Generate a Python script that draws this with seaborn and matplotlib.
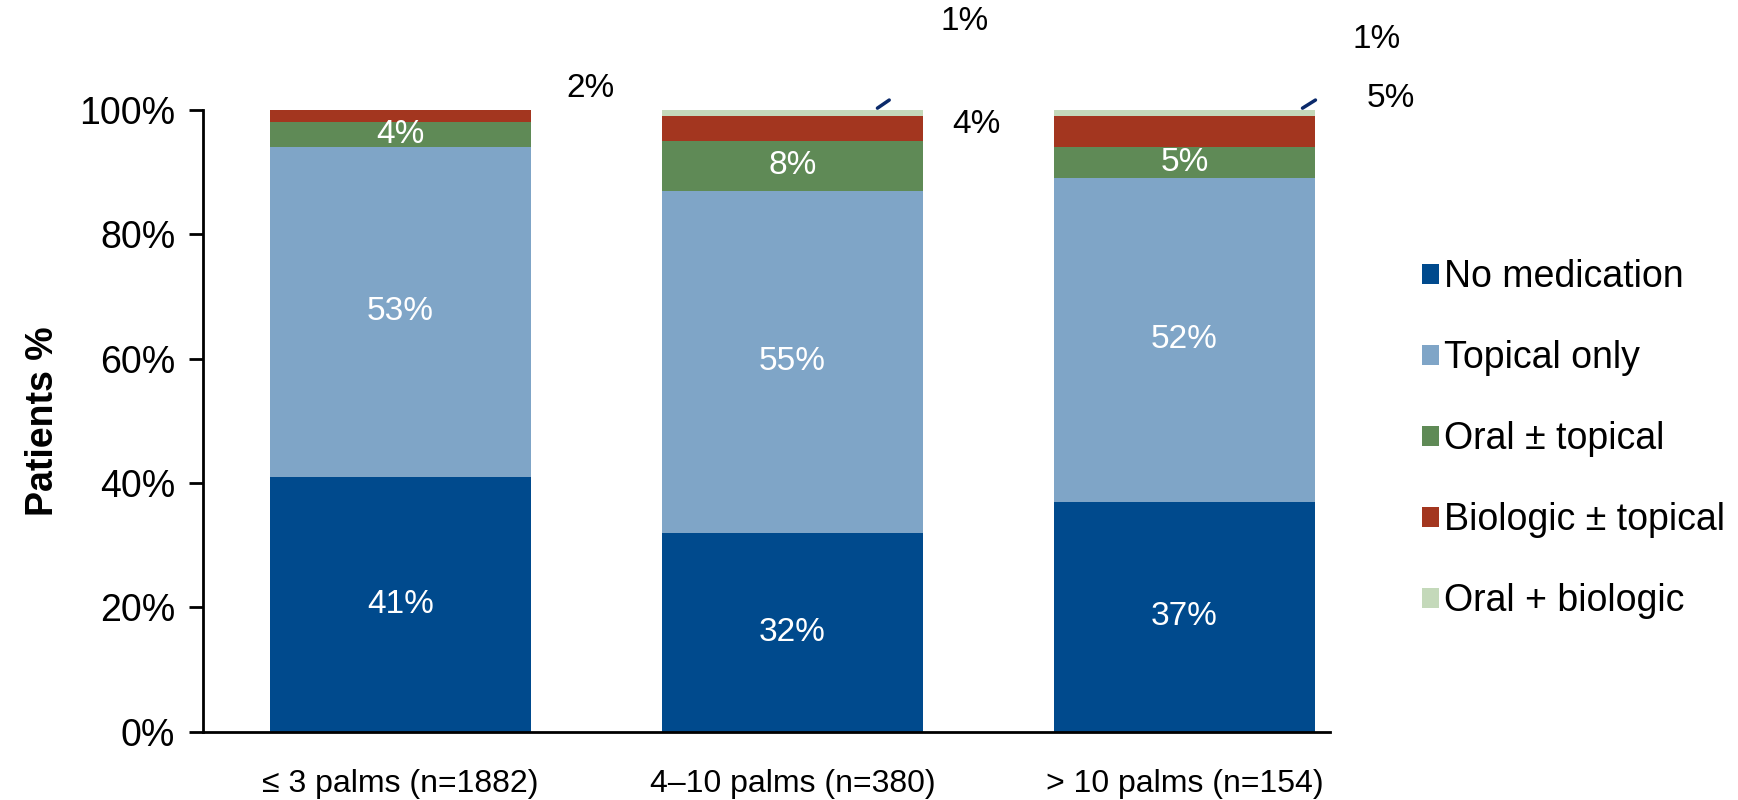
import numpy as np
import pandas as pd
import seaborn as sns
import matplotlib.pyplot as plt
from matplotlib.patches import Patch

groups = ["≤ 3 palms (n=1882)", "4–10 palms (n=380)", "> 10 palms (n=154)"]
series = ["No medication", "Topical only", "Oral ± topical", "Biologic ± topical", "Oral + biologic"]
no_med = [41, 32, 37]
topical = [53, 55, 52]
oral = [4, 8, 5]
biologic = [2, 4, 5]
oral_bio = [0, 1, 1]
colors = ["#004A8D", "#7FA5C7", "#5F8A56", "#A3361F", "#C4D9BA"]

sns.set_style("white")
plt.rcParams['font.family'] = ['Liberation Sans', 'DejaVu Sans']
plt.rcParams['text.color'] = 'black'
plt.rcParams['xtick.color'] = 'black'
plt.rcParams['ytick.color'] = 'black'
plt.rcParams['axes.labelcolor'] = 'black'

vals = np.array([no_med, topical, oral, biologic, oral_bio]) / 100.0
cum = np.cumsum(vals, axis=0)

fig = plt.figure(figsize=(17.38, 8), dpi=100)
ax = fig.add_axes([0.1168, 0.0856, 0.765 - 0.1168, 0.8625 - 0.0856])

# draw cumulative totals from the top segment down so each layer covers the one above
for i in range(len(series) - 1, -1, -1):
    d = pd.DataFrame({"group": groups, "value": cum[i]})
    sns.barplot(data=d, x="group", y="value", color=colors[i], width=0.666,
                saturation=1, errorbar=None, linewidth=0, ax=ax)

# labels inside segments
for i in range(3):
    for j in range(3):
        v = vals[j, i]
        ax.text(i, cum[j, i] - v / 2, f"{v*100:.0f}%", ha="center", va="center",
                color="white", fontsize=24)

# small segments labelled outside the bars
ax.text(0.485, 1.034, f"{biologic[0]}%", ha="center", va="center", fontsize=24, clip_on=False)
ax.text(1.439, 1.142, f"{oral_bio[1]}%", ha="center", va="center", fontsize=24, clip_on=False)
ax.text(1.469, 0.977, f"{biologic[1]}%", ha="center", va="center", fontsize=24, clip_on=False)
ax.text(2.49, 1.113, f"{oral_bio[2]}%", ha="center", va="center", fontsize=24, clip_on=False)
ax.text(2.526, 1.019, f"{biologic[2]}%", ha="center", va="center", fontsize=24, clip_on=False)
ax.plot([1.217, 1.247], [1.003, 1.016], color="#0B2A6B", lw=2.5, clip_on=False)
ax.plot([2.301, 2.334], [1.003, 1.016], color="#0B2A6B", lw=2.5, clip_on=False)

ax.set_xlim(-0.503, 2.37)
ax.set_ylim(0, 1)
ax.set_yticks(np.arange(0, 1.01, 0.2))
ax.set_yticklabels([f"{t}%" for t in range(0, 101, 20)], fontsize=27)
ax.tick_params(axis="x", labelsize=23, length=0, pad=27)
ax.tick_params(axis="y", direction="out", length=10, width=2, pad=10, left=True)
ax.set_xlabel("")
ax.set_ylabel("Patients %", fontsize=27, fontweight="bold", labelpad=13)
sns.despine(ax=ax)
for s in ["left", "bottom"]:
    ax.spines[s].set_color("black")
    ax.spines[s].set_linewidth(2)

handles = [Patch(facecolor=c, edgecolor="none") for c in colors]
fig.legend(handles, series, loc="center left", bbox_to_anchor=(0.818, 0.451),
           frameon=False, fontsize=27, handlelength=0.45, handleheight=0.45,
           handletextpad=0.15, labelspacing=1.2, borderpad=0, borderaxespad=0)

fig.savefig("out.png", dpi=100)
